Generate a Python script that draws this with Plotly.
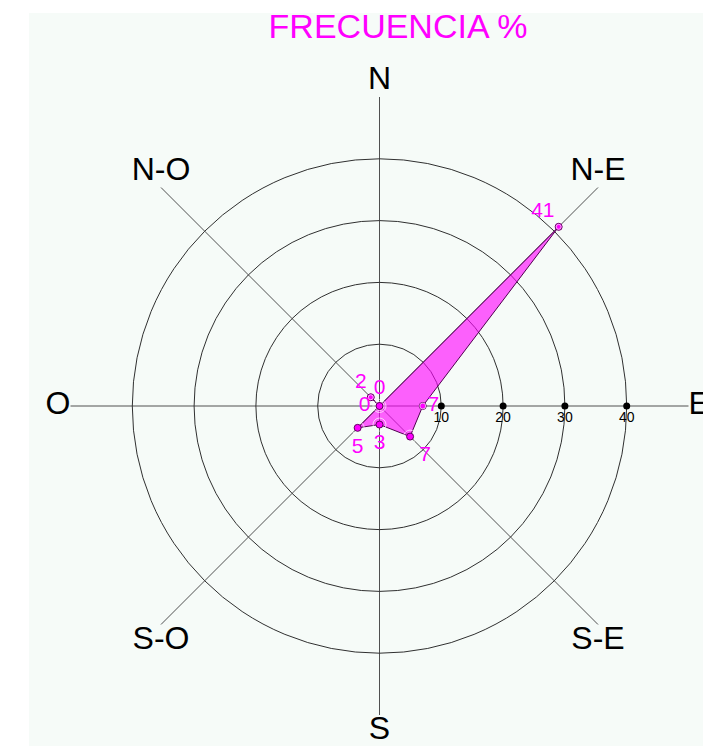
import plotly.graph_objects as go

# Data
directions = ["N", "N-E", "E", "S-E", "S", "S-O", "O", "N-O"]
frequency = [0, 41, 7, 7, 3, 5, 0, 2]
value_positions = ["top center", "top left", "middle right", "bottom right",
                   "bottom center", "bottom center", "middle left", "top left"]
label_positions = ["top center", "top center", "middle right", "bottom center",
                   "bottom center", "bottom center", "middle left", "top center"]
radial_ticks = [10, 20, 30, 40]
radial_tick_labels = ["10", "20", "30", "40"]
title_text = "FRECUENCIA %"

W, H = 711, 746
OFF = 8  # page body margin
cx, cy, R = 379.5 - OFF, 406.0 - OFF, 309.0
RMAX = 50
FONT = "Liberation Sans, Arial, sans-serif"
MAG = "#FF00FF"
BG = "#F6FBF8"

fig = go.Figure()

# Polygon (closed)
fig.add_trace(go.Scatterpolar(
    r=frequency + [frequency[0]],
    theta=directions + [directions[0]],
    mode="lines+markers",
    fill="toself",
    fillcolor="rgba(255,0,255,0.62)",
    line=dict(color="#500050", width=1),
    marker=dict(size=7, color=MAG, line=dict(color="#600060", width=1)),
    hoverinfo="skip",
    showlegend=False,
    cliponaxis=False,
))

# Value labels (transparent markers push the text away from the points)
PAD = {"top left": 5, "top center": 9, "middle right": 6}
pad_sizes = [PAD.get(p, 13) for p in value_positions]
fig.add_trace(go.Scatterpolar(
    r=frequency,
    theta=directions,
    mode="markers+text",
    marker=dict(size=pad_sizes, color="rgba(0,0,0,0)"),
    text=[str(v) for v in frequency],
    textposition=value_positions,
    textfont=dict(family=FONT, size=21, color=MAG),
    hoverinfo="skip",
    showlegend=False,
    cliponaxis=False,
))

# Radial tick dots and labels along E
fig.add_trace(go.Scatterpolar(
    r=radial_ticks,
    theta=["E"] * len(radial_ticks),
    mode="markers+text",
    marker=dict(size=7, color="black"),
    text=radial_tick_labels,
    textposition="bottom center",
    textfont=dict(family=FONT, size=14, color="black"),
    hoverinfo="skip",
    showlegend=False,
    cliponaxis=False,
))

# Direction labels at the ends of the spokes
fig.add_trace(go.Scatterpolar(
    r=[RMAX] * len(directions),
    theta=directions,
    mode="text",
    text=directions,
    textposition=label_positions,
    textfont=dict(family=FONT, size=32, color="black"),
    hoverinfo="skip",
    showlegend=False,
    cliponaxis=False,
))

fig.update_layout(
    width=W, height=H,
    margin=dict(l=0, r=0, t=0, b=0),
    paper_bgcolor="white",
    showlegend=False,
    title=dict(text=title_text, x=(398 - OFF) / W, y=1 - (26 - OFF) / H,
               xanchor="center", yanchor="middle",
               font=dict(family=FONT, size=34, color=MAG)),
    shapes=[dict(type="rect", xref="paper", yref="paper", x0=(29 - OFF) / W, x1=1,
                 y0=0, y1=1 - (13 - OFF) / H,
                 fillcolor=BG, line=dict(width=0), layer="below")],
    polar=dict(
        domain=dict(x=[(cx - R) / W, (cx + R) / W], y=[1 - (cy + R) / H, 1 - (cy - R) / H]),
        bgcolor="rgba(0,0,0,0)",
        radialaxis=dict(range=[0, RMAX], tickvals=radial_ticks, showticklabels=False,
                        showline=False, ticks="", gridcolor="#303030", gridwidth=1, angle=0),
        angularaxis=dict(type="category", categoryarray=directions, direction="clockwise",
                         rotation=90, showticklabels=False, ticks="", showline=False,
                         gridcolor="#505050", gridwidth=1),
    ),
)

fig.write_html("out.html")
